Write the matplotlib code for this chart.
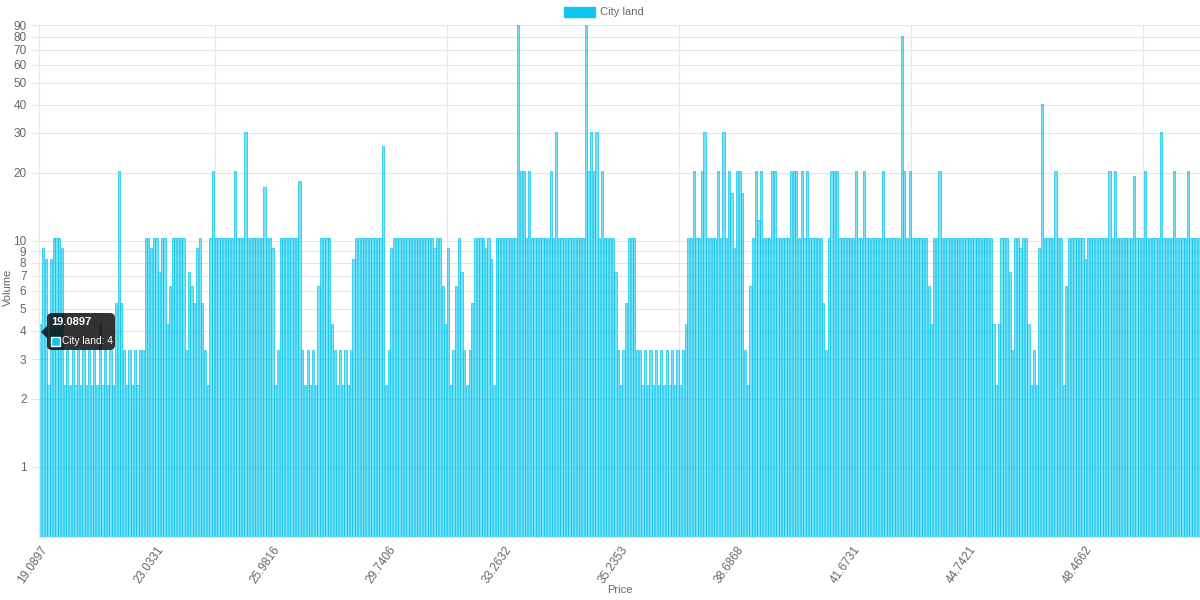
import numpy as np
import matplotlib
matplotlib.use("Agg")
import matplotlib.pyplot as plt
from matplotlib.patches import FancyBboxPatch, Rectangle, Polygon
from matplotlib.transforms import IdentityTransform

plt.rcParams["font.family"] = ["Liberation Sans", "DejaVu Sans"]

# volume per price bucket, left to right (430 buckets)
volume = [
    4, 9, 8, 2, 8, 10, 10, 10, 9, 2,
    3, 2, 3, 2, 3, 2, 3, 2, 3, 2,
    3, 2, 4, 2, 3, 2, 3, 2, 5, 20,
    5, 3, 2, 3, 2, 3, 2, 3, 3, 10,
    10, 9, 10, 10, 7, 10, 10, 4, 6, 10,
    10, 10, 10, 10, 3, 7, 6, 5, 9, 10,
    5, 3, 2, 10, 20, 10, 10, 10, 10, 10,
    10, 10, 20, 10, 10, 10, 30, 10, 10, 10,
    10, 10, 10, 17, 10, 10, 9, 2, 3, 10,
    10, 10, 10, 10, 10, 10, 18, 3, 2, 3,
    2, 3, 2, 6, 10, 10, 10, 10, 4, 3,
    2, 3, 2, 3, 2, 3, 8, 10, 10, 10,
    10, 10, 10, 10, 10, 10, 10, 26, 2, 3,
    9, 10, 10, 10, 10, 10, 10, 10, 10, 10,
    10, 10, 10, 10, 10, 10, 9, 10, 10, 6,
    4, 9, 2, 3, 6, 10, 7, 3, 2, 3,
    5, 10, 10, 10, 10, 9, 10, 8, 2, 10,
    10, 10, 10, 10, 10, 10, 10, 90, 20, 20,
    10, 20, 10, 10, 10, 10, 10, 10, 10, 20,
    10, 30, 10, 10, 10, 10, 10, 10, 10, 10,
    10, 10, 90, 20, 30, 20, 30, 10, 20, 10,
    10, 10, 10, 7, 3, 2, 3, 5, 10, 10,
    10, 3, 3, 2, 3, 2, 3, 2, 3, 2,
    3, 2, 3, 2, 3, 2, 3, 2, 3, 4,
    10, 10, 20, 10, 10, 20, 30, 10, 10, 10,
    10, 20, 10, 30, 10, 20, 16, 9, 20, 20,
    16, 3, 2, 6, 10, 20, 12, 20, 10, 10,
    10, 20, 20, 10, 10, 10, 10, 10, 20, 20,
    20, 10, 20, 10, 20, 10, 10, 10, 10, 10,
    5, 3, 10, 20, 20, 20, 10, 10, 10, 10,
    10, 10, 20, 10, 10, 20, 10, 10, 10, 10,
    10, 10, 20, 10, 10, 10, 10, 10, 10, 80,
    20, 10, 20, 10, 10, 10, 10, 10, 10, 6,
    4, 10, 10, 20, 10, 10, 10, 10, 10, 10,
    10, 10, 10, 10, 10, 10, 10, 10, 10, 10,
    10, 10, 10, 4, 2, 4, 10, 10, 10, 7,
    3, 10, 10, 9, 10, 10, 4, 2, 3, 2,
    9, 40, 10, 10, 10, 10, 20, 10, 10, 2,
    6, 10, 10, 10, 10, 10, 10, 8, 10, 10,
    10, 10, 10, 10, 10, 10, 20, 10, 20, 10,
    10, 10, 10, 10, 10, 19, 10, 10, 10, 20,
    10, 10, 10, 10, 10, 30, 10, 10, 10, 10,
    20, 10, 10, 10, 10, 20, 10, 10, 10, 10,
]
tick_labels = ["19.0897", "23.0331", "25.9816", "29.7406", "33.2632",
               "35.2353", "38.6868", "41.6731", "44.7421", "48.4662"]
label_step = 43
y_ticks = [1, 2, 3, 4, 5, 6, 7, 8, 9, 10, 20, 30, 40, 50, 60, 70, 80, 90]

CYAN = "#0ec6ee"
GRID = "#e6e6e6"
TXT = "#666666"

fig = plt.figure(figsize=(12, 6), dpi=100)
ax = fig.add_axes([39 / 1200, 1 - 537 / 600, 1161 / 1200, 512 / 600])

x = np.arange(len(volume))
ax.bar(x, volume, width=0.8, bottom=0.3, facecolor=(0.05, 0.78, 0.93, 0.55),
       edgecolor=CYAN, linewidth=0.5, zorder=2)

ax.set_yscale("log")
ax.set_ylim(0.49, 90)
ax.set_xlim(-0.5, len(volume) - 0.5)
ax.set_yticks(y_ticks)
ax.set_yticklabels([str(t) for t in y_ticks])
ax.minorticks_off()
ax.yaxis.grid(True, color=GRID, lw=0.8, zorder=0)
for gx in np.arange(1.5, 10, 2) * label_step:
    ax.axvline(gx, color=GRID, lw=0.8, zorder=0)

ax.set_xticks(x[::label_step][:len(tick_labels)])
ax.set_xticklabels(tick_labels, rotation=55, ha="right", rotation_mode="anchor")
ax.tick_params(axis="x", length=0, pad=5, labelsize=8.5, labelcolor=TXT)
ax.tick_params(axis="y", length=6, color=GRID, pad=3, labelsize=8.5, labelcolor=TXT)
for s in ["top", "right"]:
    ax.spines[s].set_visible(False)
for s in ["left", "bottom"]:
    ax.spines[s].set_color(GRID)

H = 600
fig.text(620 / 1200, 1 - 590 / H, "Price", color=TXT, fontsize=8, ha="center", va="center")
fig.text(8 / 1200, 1 - 287 / H, "Volume", color=TXT, fontsize=8, ha="center",
         va="center", rotation=90)

# legend
tr = IdentityTransform()
fig.add_artist(Rectangle((564, H - 17), 31, 10, transform=tr, facecolor=CYAN,
                         edgecolor=CYAN, lw=1))
fig.text(600 / 1200, 1 - 12 / H, "City land", color=TXT, fontsize=8, va="center")

# tooltip
fig.add_artist(FancyBboxPatch((47, H - 350), 68, 37, transform=tr,
                              boxstyle="round,pad=0,rounding_size=5",
                              facecolor=(0, 0, 0, 0.8), edgecolor="none", zorder=10))
fig.add_artist(Polygon([(41, H - 332), (47, H - 326), (47, H - 338)], closed=True,
                       transform=tr, facecolor=(0, 0, 0, 0.8), edgecolor="none", zorder=10))
fig.text(51 / 1200, 1 - 322 / H, tick_labels[0], color="white", fontsize=8,
         fontweight="bold", va="center", zorder=11)
fig.add_artist(Rectangle((51, H - 346), 9, 9, transform=tr, facecolor=CYAN,
                         edgecolor="white", lw=1, zorder=11))
fig.text(62 / 1200, 1 - 341 / H, f"City land: {volume[0]}", color="white",
         fontsize=7.3, va="center", zorder=11)

fig.savefig("out.png", dpi=100)
